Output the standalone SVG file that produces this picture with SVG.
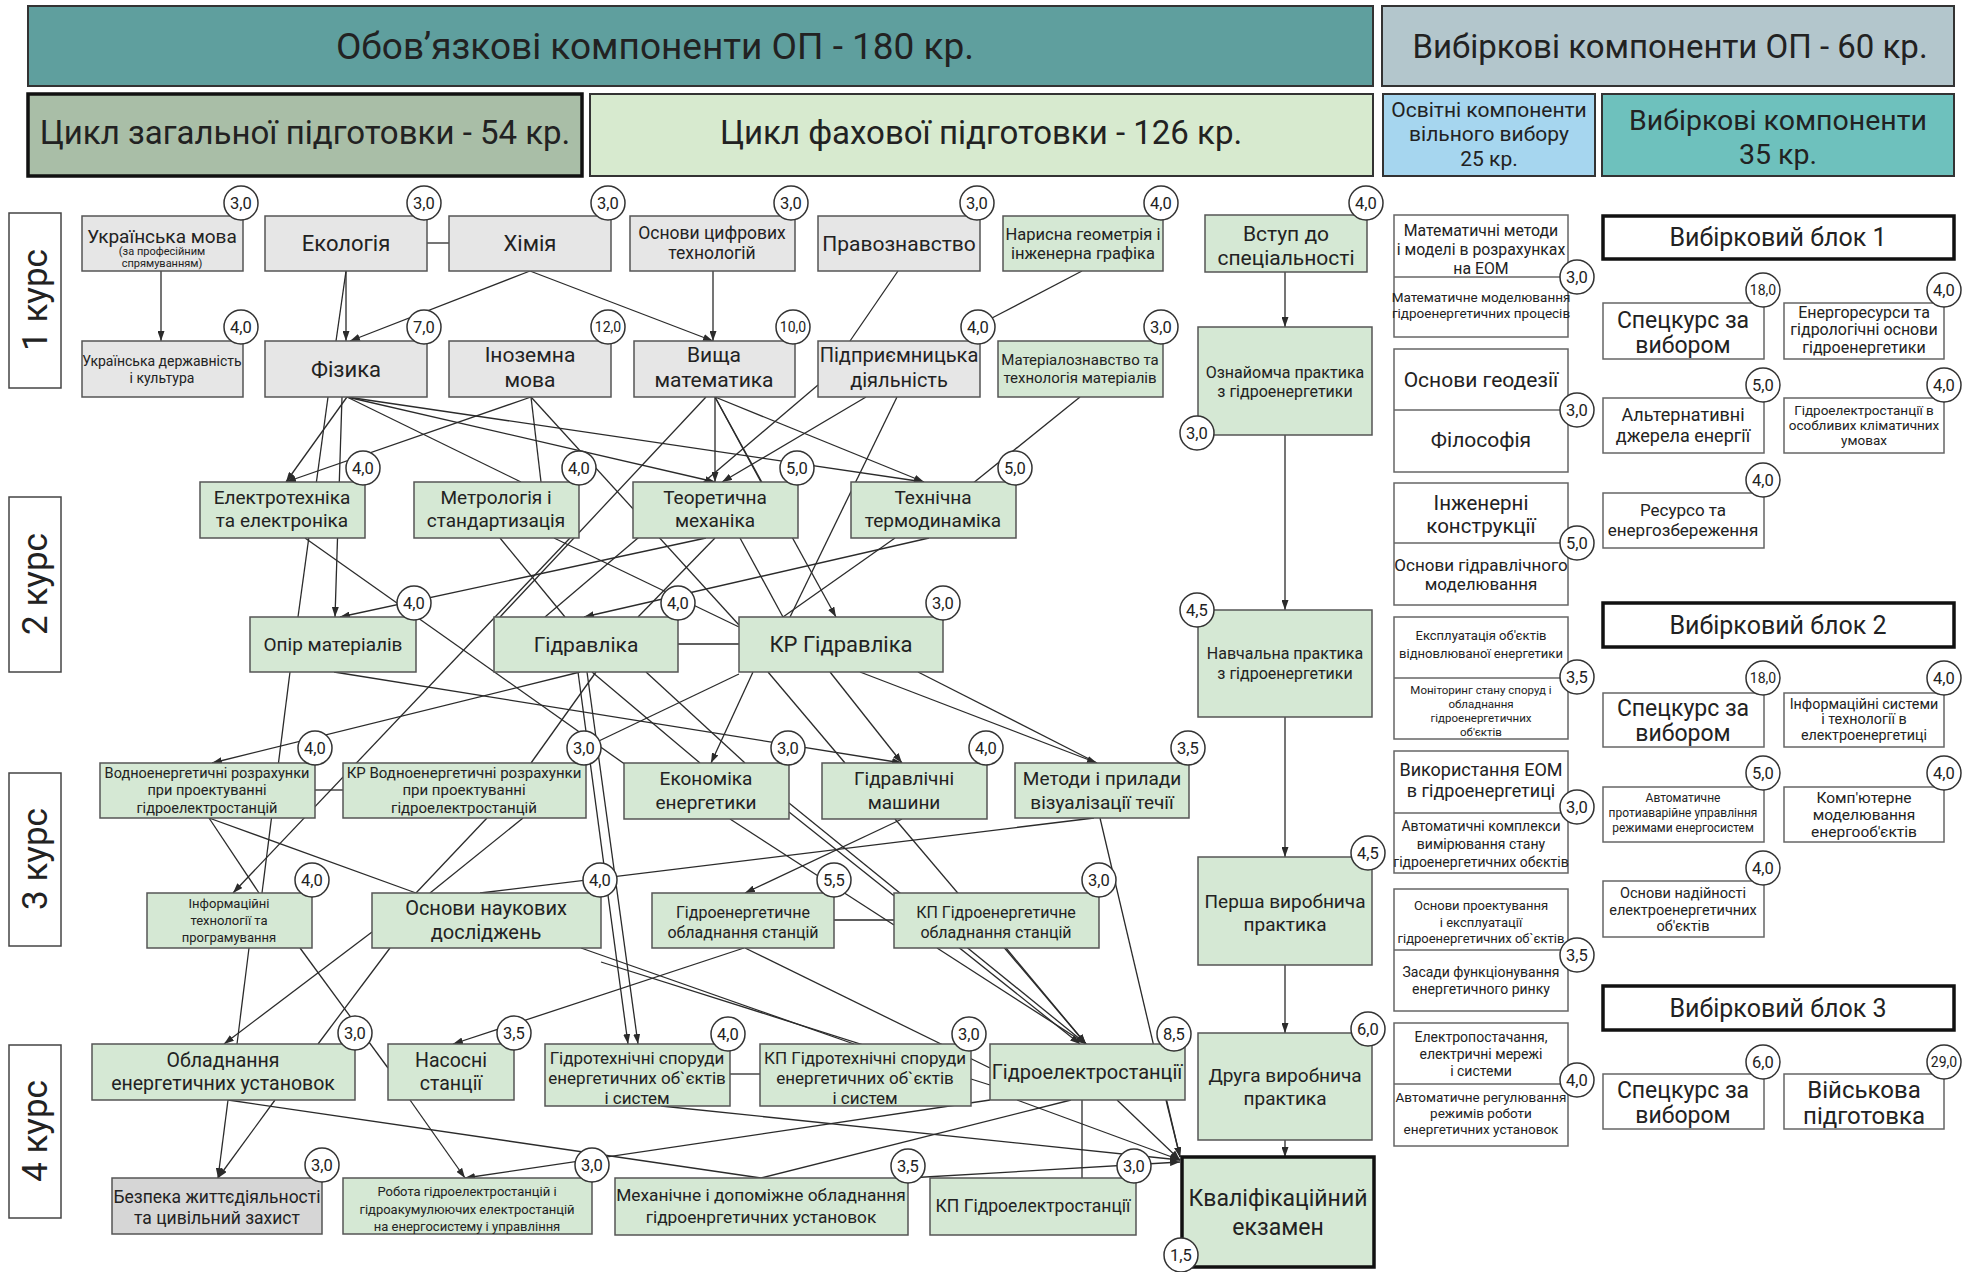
<svg xmlns="http://www.w3.org/2000/svg" width="1975" height="1272" viewBox="0 0 1975 1272">
<defs>
<marker id="ar" viewBox="0 0 10 7" refX="10" refY="3.5" markerWidth="10" markerHeight="7" markerUnits="userSpaceOnUse" orient="auto"><path d="M0,0 L10,3.5 L0,7 z" fill="#2b2b2b"/></marker>
<style>
text{font-family:Roboto,"Liberation Sans",sans-serif;fill:#222;text-anchor:middle}
.gr rect{fill:#e6e6e6;stroke:#555;stroke-width:1.5}
.gn rect{fill:#d5e8d4;stroke:#555;stroke-width:1.5}
.w rect{fill:#fff;stroke:#666;stroke-width:1.5}
.w line{stroke:#666;stroke-width:1.5}
.blk rect{fill:#fff;stroke:#111;stroke-width:3.5}
.crs rect{fill:#fff;stroke:#444;stroke-width:1.5}
.hd rect{stroke:#333;stroke-width:2}
.b circle{fill:#fff;stroke:#333;stroke-width:1.5}
.b text{font-size:16.5px}
.b text.s{font-size:14px}
#conn line{stroke:#2b2b2b;stroke-width:1.3}
#conn .a{marker-end:url(#ar)}
</style>
</defs>
<rect width="1975" height="1272" fill="#fff"/>

<!-- headers -->
<g id="h_oboviazk" class="hd"><rect x="28" y="6" width="1345" height="80" fill="#5f9f9e"/><text x="655" y="59" font-size="37">Обов’язкові компоненти ОП - 180 кр.</text></g>
<g id="h_vybirk" class="hd"><rect x="1382" y="6" width="572" height="80" fill="#b3c6cc"/><text x="1670" y="58" font-size="33">Вибіркові компоненти ОП - 60 кр.</text></g>
<g id="h_zag" class="hd"><rect x="28" y="94" width="554" height="82" fill="#a9bea7" style="stroke:#111;stroke-width:3.5"/><text x="305" y="144" font-size="33">Цикл загальної підготовки - 54 кр.</text></g>
<g id="h_fakh" class="hd"><rect x="590" y="94" width="783" height="82" fill="#d7eacf"/><text x="981" y="144" font-size="33">Цикл фахової підготовки - 126 кр.</text></g>
<g id="h_osv" class="hd"><rect x="1383" y="94" width="212" height="82" fill="#a6d6ef"/><text x="1489" y="117" font-size="21">Освітні компоненти</text><text x="1489" y="141" font-size="21">вільного вибору</text><text x="1489" y="166" font-size="21">25 кр.</text></g>
<g id="h_vyb35" class="hd"><rect x="1602" y="94" width="352" height="82" fill="#6ec1bd"/><text x="1778" y="130" font-size="28.5">Вибіркові компоненти</text><text x="1778" y="164" font-size="28.5">35 кр.</text></g>

<!-- course labels -->
<g id="kurs1" class="crs"><rect x="9" y="213" width="52" height="175"/><text transform="translate(35,300) rotate(-90)" y="12" font-size="35">1 курс</text></g>
<g id="kurs2" class="crs"><rect x="9" y="497" width="52" height="175"/><text transform="translate(35,584) rotate(-90)" y="12" font-size="35">2 курс</text></g>
<g id="kurs3" class="crs"><rect x="9" y="773" width="52" height="173"/><text transform="translate(35,859) rotate(-90)" y="12" font-size="35">3 курс</text></g>
<g id="kurs4" class="crs"><rect x="9" y="1045" width="52" height="173"/><text transform="translate(35,1131) rotate(-90)" y="12" font-size="35">4 курс</text></g>

<!-- connectors -->
<g id="conn">
<line class="a" x1="161" y1="271" x2="161" y2="341"/>
<line x1="427" y1="243" x2="449" y2="243"/>
<line class="a" x1="346" y1="271" x2="346" y2="341"/>
<line x1="346" y1="271" x2="336" y2="341"/>
<line class="a" x1="530" y1="271" x2="350" y2="341"/>
<line class="a" x1="530" y1="271" x2="713" y2="341"/>
<line class="a" x1="713" y1="271" x2="713" y2="341"/>
<line x1="898" y1="271" x2="850" y2="341"/>
<line x1="1082" y1="271" x2="992" y2="318"/>
<line x1="1080" y1="397" x2="972" y2="484"/>

<line class="a" x1="347" y1="397" x2="286" y2="482"/>
<line class="a" x1="531" y1="397" x2="286" y2="482"/>
<line x1="328" y1="397" x2="298" y2="617"/>
<line class="a" x1="342" y1="397" x2="335" y2="617"/>
<line x1="347" y1="397" x2="521" y2="482"/>
<line class="a" x1="347" y1="397" x2="715" y2="482"/>
<line class="a" x1="347" y1="397" x2="924" y2="482"/>
<line x1="531" y1="397" x2="541" y2="482"/>
<line x1="531" y1="397" x2="739" y2="625"/>
<line class="a" x1="715" y1="397" x2="715" y2="482"/>
<line x1="715" y1="397" x2="761" y2="482"/>
<line class="a" x1="715" y1="397" x2="924" y2="482"/>
<line class="a" x1="715" y1="397" x2="836" y2="617"/>
<line x1="706" y1="397" x2="500" y2="617"/>
<line class="a" x1="866" y1="397" x2="722" y2="482"/>
<line x1="897" y1="397" x2="790" y2="617"/>
<line x1="818" y1="385" x2="545" y2="617"/>

<line x1="305" y1="538" x2="626" y2="765"/>
<line class="a" x1="570" y1="538" x2="233" y2="893"/>
<line x1="500" y1="538" x2="565" y2="617"/>
<line x1="554" y1="538" x2="739" y2="627"/>
<line class="a" x1="706" y1="538" x2="340" y2="617"/>
<line x1="715" y1="538" x2="638" y2="617"/>
<line x1="740" y1="538" x2="783" y2="617"/>
<line x1="895" y1="538" x2="783" y2="617"/>
<line class="a" x1="929" y1="538" x2="584" y2="617"/>
<line x1="678" y1="644" x2="739" y2="644"/>

<line x1="290" y1="672" x2="262" y2="893"/>
<line class="a" x1="334" y1="672" x2="902" y2="763"/>
<line class="a" x1="580" y1="672" x2="212" y2="763"/>
<line x1="596" y1="672" x2="531" y2="763"/>
<line class="a" x1="578" y1="672" x2="628" y2="1044"/>
<line class="a" x1="587" y1="672" x2="638" y2="1044"/>
<line x1="592" y1="672" x2="700" y2="763"/>
<line x1="646" y1="672" x2="745" y2="763"/>
<line x1="739" y1="674" x2="580" y2="750"/>
<line class="a" x1="753" y1="672" x2="711" y2="763"/>
<line x1="768" y1="672" x2="845" y2="763"/>
<line class="a" x1="830" y1="672" x2="902" y2="763"/>
<line class="a" x1="860" y1="672" x2="1097" y2="763"/>
<line x1="918" y1="672" x2="1097" y2="763"/>

<line x1="315" y1="790" x2="343" y2="790"/>
<line x1="209" y1="818" x2="259" y2="893"/>
<line x1="209" y1="818" x2="416" y2="893"/>
<line x1="487" y1="818" x2="416" y2="893"/>
<line x1="523" y1="818" x2="430" y2="893"/>
<line x1="730" y1="819" x2="894" y2="925"/>
<line class="a" x1="789" y1="803" x2="1086" y2="1044"/>
<line class="a" x1="789" y1="812" x2="1080" y2="1044"/>
<line class="a" x1="902" y1="819" x2="745" y2="893"/>
<line class="a" x1="895" y1="819" x2="1086" y2="1044"/>
<line x1="1094" y1="818" x2="480" y2="893"/>
<line class="a" x1="1100" y1="818" x2="1180" y2="1157"/>
<line x1="834" y1="920" x2="894" y2="920"/>

<line x1="249" y1="948" x2="237" y2="1044"/>
<line x1="300" y1="948" x2="388" y2="1068"/>
<line class="a" x1="372" y1="932" x2="224" y2="1044"/>
<line x1="390" y1="948" x2="318" y2="1044"/>
<line x1="581" y1="948" x2="854" y2="1044"/>
<line x1="601" y1="962" x2="990" y2="1085"/>
<line class="a" x1="744" y1="948" x2="453" y2="1044"/>
<line x1="745" y1="948" x2="990" y2="1068"/>
<line class="a" x1="1006" y1="948" x2="1086" y2="1044"/>
<line class="a" x1="937" y1="948" x2="1086" y2="1044"/>
<line x1="730" y1="1074" x2="760" y2="1074"/>

<line class="a" x1="228" y1="1100" x2="218" y2="1178"/>
<line class="a" x1="275" y1="1100" x2="218" y2="1178"/>
<line x1="228" y1="1100" x2="761" y2="1178"/>
<line class="a" x1="410" y1="1100" x2="465" y2="1178"/>
<line class="a" x1="990" y1="1100" x2="465" y2="1178"/>
<line x1="1071" y1="1100" x2="761" y2="1178"/>
<line x1="1082" y1="1100" x2="1082" y2="1178"/>
<line class="a" x1="1017" y1="1100" x2="1180" y2="1160"/>
<line class="a" x1="1117" y1="1100" x2="1180" y2="1160"/>
<line class="a" x1="1166" y1="1100" x2="1180" y2="1157"/>
<line class="a" x1="661" y1="1106" x2="1180" y2="1160"/>
<line class="a" x1="908" y1="1178" x2="1180" y2="1162"/>

<line class="a" x1="1285" y1="272" x2="1285" y2="327"/>
<line class="a" x1="1285" y1="435" x2="1285" y2="610"/>
<line class="a" x1="1285" y1="717" x2="1285" y2="857"/>
<line class="a" x1="1285" y1="965" x2="1285" y2="1033"/>
<line class="a" x1="1285" y1="1140" x2="1285" y2="1157"/>
</g>

<!-- 1 курс -->
<g id="ukr_mova" class="gr"><rect x="82" y="216" width="161" height="55"/><text x="162" y="243" font-size="19">Українська мова</text><text x="162" y="255" font-size="11">(за професійним</text><text x="162" y="267" font-size="11">спрямуванням)</text><g class="b"><circle cx="241" cy="203" r="17"/><text x="241" y="208.5">3,0</text></g></g>
<g id="ekologiia" class="gr"><rect x="265" y="216" width="162" height="55"/><text x="346" y="251" font-size="22">Екологія</text><g class="b"><circle cx="424" cy="203" r="17"/><text x="424" y="208.5">3,0</text></g></g>
<g id="khimiia" class="gr"><rect x="449" y="216" width="162" height="55"/><text x="530" y="251" font-size="22">Хімія</text><g class="b"><circle cx="608" cy="203" r="17"/><text x="608" y="208.5">3,0</text></g></g>
<g id="osn_cyfr" class="gr"><rect x="630" y="216" width="165" height="55"/><text x="712" y="239" font-size="17.5">Основи цифрових</text><text x="712" y="259" font-size="17.5">технологій</text><g class="b"><circle cx="791" cy="203" r="17"/><text x="791" y="208.5">3,0</text></g></g>
<g id="pravo" class="gr"><rect x="818" y="216" width="162" height="55"/><text x="899" y="251" font-size="21">Правознавство</text><g class="b"><circle cx="977" cy="203" r="17"/><text x="977" y="208.5">3,0</text></g></g>
<g id="narysna" class="gn"><rect x="1003" y="216" width="160" height="55"/><text x="1083" y="240" font-size="16.5">Нарисна геометрія і</text><text x="1083" y="259" font-size="16.5">інженерна графіка</text><g class="b"><circle cx="1161" cy="203" r="17"/><text x="1161" y="208.5">4,0</text></g></g>

<g id="ukr_derzh" class="gr"><rect x="82" y="341" width="161" height="56"/><text x="162" y="366" font-size="14">Українська державність</text><text x="162" y="383" font-size="14">і культура</text><g class="b"><circle cx="241" cy="327" r="17"/><text x="241" y="332.5">4,0</text></g></g>
<g id="fizyka" class="gr"><rect x="265" y="341" width="162" height="56"/><text x="346" y="377" font-size="22">Фізика</text><g class="b"><circle cx="424" cy="327" r="17"/><text x="424" y="332.5">7,0</text></g></g>
<g id="inozemna" class="gr"><rect x="449" y="341" width="162" height="56"/><text x="530" y="362" font-size="21">Іноземна</text><text x="530" y="387" font-size="21">мова</text><g class="b"><circle cx="608" cy="327" r="17"/><text class="s" x="608" y="332">12,0</text></g></g>
<g id="vyshcha_mat" class="gr"><rect x="634" y="341" width="161" height="56"/><text x="714" y="362" font-size="21">Вища</text><text x="714" y="387" font-size="21">математика</text><g class="b"><circle cx="793" cy="327" r="17"/><text class="s" x="793" y="332">10,0</text></g></g>
<g id="pidpryiemn" class="gr"><rect x="818" y="341" width="162" height="56"/><text x="899" y="362" font-size="20">Підприємницька</text><text x="899" y="387" font-size="20">діяльність</text><g class="b"><circle cx="978" cy="327" r="17"/><text x="978" y="332.5">4,0</text></g></g>
<g id="materialozn" class="gn"><rect x="998" y="341" width="165" height="56"/><text x="1080" y="365" font-size="15">Матеріалознавство та</text><text x="1080" y="383" font-size="15">технологія матеріалів</text><g class="b"><circle cx="1161" cy="327" r="17"/><text x="1161" y="332.5">3,0</text></g></g>

<!-- 2 курс -->
<g id="elektrotekh" class="gn"><rect x="200" y="482" width="165" height="56"/><text x="282" y="504" font-size="19">Електротехніка</text><text x="282" y="527" font-size="19">та електроніка</text><g class="b"><circle cx="363" cy="468" r="17"/><text x="363" y="473.5">4,0</text></g></g>
<g id="metrologiia" class="gn"><rect x="414" y="482" width="165" height="56"/><text x="496" y="504" font-size="19">Метрологія і</text><text x="496" y="527" font-size="19">стандартизація</text><g class="b"><circle cx="579" cy="468" r="17"/><text x="579" y="473.5">4,0</text></g></g>
<g id="teor_mekh" class="gn"><rect x="633" y="482" width="165" height="56"/><text x="715" y="504" font-size="19">Теоретична</text><text x="715" y="527" font-size="19">механіка</text><g class="b"><circle cx="797" cy="468" r="17"/><text x="797" y="473.5">5,0</text></g></g>
<g id="tekhn_termo" class="gn"><rect x="851" y="482" width="165" height="56"/><text x="933" y="504" font-size="19">Технічна</text><text x="933" y="527" font-size="19">термодинаміка</text><g class="b"><circle cx="1015" cy="468" r="17"/><text x="1015" y="473.5">5,0</text></g></g>

<g id="opir_mat" class="gn"><rect x="250" y="617" width="166" height="55"/><text x="333" y="651" font-size="19">Опір матеріалів</text><g class="b"><circle cx="414" cy="603" r="17"/><text x="414" y="608.5">4,0</text></g></g>
<g id="gidravlika" class="gn"><rect x="494" y="617" width="184" height="55"/><text x="586" y="652" font-size="21">Гідравліка</text><g class="b"><circle cx="678" cy="603" r="17"/><text x="678" y="608.5">4,0</text></g></g>
<g id="kr_gidravlika" class="gn"><rect x="739" y="617" width="204" height="55"/><text x="841" y="652" font-size="22">КР Гідравліка</text><g class="b"><circle cx="943" cy="603" r="17"/><text x="943" y="608.5">3,0</text></g></g>

<!-- 3 курс -->
<g id="vodnoen" class="gn"><rect x="100" y="763" width="215" height="55"/><text x="207" y="778" font-size="14.5">Водноенергетичні розрахунки</text><text x="207" y="795" font-size="14.5">при проектуванні</text><text x="207" y="813" font-size="14.5">гідроелектростанцій</text><g class="b"><circle cx="315" cy="748" r="17"/><text x="315" y="753.5">4,0</text></g></g>
<g id="kr_vodnoen" class="gn"><rect x="343" y="763" width="243" height="55"/><text x="464" y="778" font-size="15">КР Водноенергетичні розрахунки</text><text x="464" y="795" font-size="15">при проектуванні</text><text x="464" y="813" font-size="15">гідроелектростанцій</text><g class="b"><circle cx="584" cy="748" r="17"/><text x="584" y="753.5">3,0</text></g></g>
<g id="ekonomika" class="gn"><rect x="624" y="763" width="165" height="56"/><text x="706" y="785" font-size="19">Економіка</text><text x="706" y="809" font-size="19">енергетики</text><g class="b"><circle cx="788" cy="748" r="17"/><text x="788" y="753.5">3,0</text></g></g>
<g id="gidr_mashyny" class="gn"><rect x="822" y="763" width="165" height="56"/><text x="904" y="785" font-size="19">Гідравлічні</text><text x="904" y="809" font-size="19">машини</text><g class="b"><circle cx="986" cy="748" r="17"/><text x="986" y="753.5">4,0</text></g></g>
<g id="metody" class="gn"><rect x="1015" y="763" width="174" height="55"/><text x="1102" y="785" font-size="19">Методи і прилади</text><text x="1102" y="809" font-size="19">візуалізації течії</text><g class="b"><circle cx="1188" cy="748" r="17"/><text x="1188" y="753.5">3,5</text></g></g>

<g id="inform_tekh" class="gn"><rect x="147" y="893" width="165" height="55"/><text x="229" y="908" font-size="13">Інформаційні</text><text x="229" y="925" font-size="13">технології та</text><text x="229" y="942" font-size="13">програмування</text><g class="b"><circle cx="312" cy="880" r="17"/><text x="312" y="885.5">4,0</text></g></g>
<g id="osn_nauk" class="gn"><rect x="372" y="893" width="229" height="55"/><text x="486" y="915" font-size="20">Основи наукових</text><text x="486" y="939" font-size="20">досліджень</text><g class="b"><circle cx="600" cy="880" r="17"/><text x="600" y="885.5">4,0</text></g></g>
<g id="gidroen_obl" class="gn"><rect x="652" y="893" width="182" height="55"/><text x="743" y="918" font-size="16">Гідроенергетичне</text><text x="743" y="938" font-size="16">обладнання станцій</text><g class="b"><circle cx="834" cy="880" r="17"/><text x="834" y="885.5">5,5</text></g></g>
<g id="kp_gidroen_obl" class="gn"><rect x="894" y="893" width="205" height="55"/><text x="996" y="918" font-size="16">КП Гідроенергетичне</text><text x="996" y="938" font-size="16">обладнання станцій</text><g class="b"><circle cx="1099" cy="880" r="17"/><text x="1099" y="885.5">3,0</text></g></g>

<!-- 4 курс -->
<g id="obladn_en" class="gn"><rect x="92" y="1044" width="263" height="56"/><text x="223" y="1067" font-size="19.5">Обладнання</text><text x="223" y="1090" font-size="19.5">енергетичних установок</text><g class="b"><circle cx="355" cy="1033" r="17"/><text x="355" y="1038.5">3,0</text></g></g>
<g id="nasosni" class="gn"><rect x="388" y="1044" width="126" height="56"/><text x="451" y="1067" font-size="19.5">Насосні</text><text x="451" y="1090" font-size="19.5">станції</text><g class="b"><circle cx="514" cy="1033" r="17"/><text x="514" y="1038.5">3,5</text></g></g>
<g id="gidrotekh_spor" class="gn"><rect x="545" y="1044" width="185" height="62"/><text x="637" y="1064" font-size="17">Гідротехнічні споруди</text><text x="637" y="1084" font-size="17">енергетичних об`єктів</text><text x="637" y="1104" font-size="17">і систем</text><g class="b"><circle cx="728" cy="1034" r="17"/><text x="728" y="1039.5">4,0</text></g></g>
<g id="kp_gidrotekh_spor" class="gn"><rect x="760" y="1044" width="211" height="62"/><text x="865" y="1064" font-size="17">КП Гідротехнічні споруди</text><text x="865" y="1084" font-size="17">енергетичних об`єктів</text><text x="865" y="1104" font-size="17">і систем</text><g class="b"><circle cx="969" cy="1034" r="17"/><text x="969" y="1039.5">3,0</text></g></g>
<g id="ges" class="gn"><rect x="990" y="1044" width="195" height="56"/><text x="1087" y="1079" font-size="20">Гідроелектростанції</text><g class="b"><circle cx="1174" cy="1034" r="17"/><text x="1174" y="1039.5">8,5</text></g></g>

<g id="bezpeka" class="gr"><rect x="112" y="1178" width="210" height="56" style="fill:#d6d6d6"/><text x="217" y="1203" font-size="17.5">Безпека життєдіяльності</text><text x="217" y="1224" font-size="17.5">та цивільний захист</text><g class="b"><circle cx="322" cy="1165" r="17"/><text x="322" y="1170.5">3,0</text></g></g>
<g id="robota_ges" class="gn"><rect x="343" y="1178" width="249" height="56"/><text x="467" y="1196" font-size="13">Робота гідроелектростанцій і</text><text x="467" y="1214" font-size="13">гідроакумулюючих електростанцій</text><text x="467" y="1231" font-size="13">на енергосистему і управління</text><g class="b"><circle cx="592" cy="1165" r="17"/><text x="592" y="1170.5">3,0</text></g></g>
<g id="mekh_obl" class="gn"><rect x="615" y="1178" width="293" height="57"/><text x="761" y="1201" font-size="17.3">Механічне і допоміжне обладнання</text><text x="761" y="1223" font-size="17.3">гідроенргетичних установок</text><g class="b"><circle cx="908" cy="1166" r="17"/><text x="908" y="1171.5">3,5</text></g></g>
<g id="kp_ges" class="gn"><rect x="930" y="1178" width="206" height="57"/><text x="1033" y="1212" font-size="17.5">КП Гідроелектростанції</text><g class="b"><circle cx="1134" cy="1166" r="17"/><text x="1134" y="1171.5">3,0</text></g></g>

<!-- practice column -->
<g id="vstup" class="gn"><rect x="1205" y="215" width="162" height="57"/><text x="1286" y="241" font-size="21">Вступ до</text><text x="1286" y="265" font-size="21">спеціальності</text><g class="b"><circle cx="1366" cy="203" r="17"/><text x="1366" y="208.5">4,0</text></g></g>
<g id="oznaiom" class="gn"><rect x="1198" y="327" width="174" height="108"/><text x="1285" y="378" font-size="16">Ознайомча практика</text><text x="1285" y="397" font-size="16">з гідроенергетики</text><g class="b"><circle cx="1197" cy="433" r="17"/><text x="1197" y="438.5">3,0</text></g></g>
<g id="navch" class="gn"><rect x="1198" y="610" width="174" height="107"/><text x="1285" y="659" font-size="16">Навчальна практика</text><text x="1285" y="679" font-size="16">з гідроенергетики</text><g class="b"><circle cx="1197" cy="610" r="17"/><text x="1197" y="615.5">4,5</text></g></g>
<g id="persha" class="gn"><rect x="1198" y="857" width="174" height="108"/><text x="1285" y="908" font-size="19">Перша виробнича</text><text x="1285" y="931" font-size="19">практика</text><g class="b"><circle cx="1368" cy="853" r="17"/><text x="1368" y="858.5">4,5</text></g></g>
<g id="druha" class="gn"><rect x="1198" y="1033" width="174" height="107"/><text x="1285" y="1082" font-size="19">Друга виробнича</text><text x="1285" y="1105" font-size="19">практика</text><g class="b"><circle cx="1368" cy="1029" r="17"/><text x="1368" y="1034.5">6,0</text></g></g>
<g id="kvalif" class="gn"><rect x="1182" y="1157" width="192" height="110" style="stroke:#111;stroke-width:3.5"/><text x="1278" y="1206" font-size="23">Кваліфікаційний</text><text x="1278" y="1235" font-size="23">екзамен</text><g class="b"><circle cx="1181" cy="1255" r="17"/><text x="1181" y="1260.5">1,5</text></g></g>

<!-- free choice column -->
<g id="vv1" class="w"><rect x="1394" y="215" width="174" height="122"/><line x1="1394" y1="277" x2="1562" y2="277"/><text x="1481" y="236" font-size="15.8">Математичні методи</text><text x="1481" y="255" font-size="15.8">і моделі в розрахунках</text><text x="1481" y="274" font-size="15.8">на ЕОМ</text><text x="1481" y="302" font-size="13.5">Математичне моделювання</text><text x="1481" y="318" font-size="13.5">гідроенергетичних процесів</text><g class="b"><circle cx="1577" cy="277" r="17"/><text x="1577" y="282.5">3,0</text></g></g>
<g id="vv2" class="w"><rect x="1394" y="349" width="174" height="123"/><line x1="1394" y1="410" x2="1562" y2="410"/><text x="1481" y="387" font-size="21">Основи геодезії</text><text x="1481" y="447" font-size="21">Філософія</text><g class="b"><circle cx="1577" cy="410" r="17"/><text x="1577" y="415.5">3,0</text></g></g>
<g id="vv3" class="w"><rect x="1394" y="483" width="174" height="122"/><line x1="1394" y1="543" x2="1562" y2="543"/><text x="1481" y="510" font-size="20.5">Інженерні</text><text x="1481" y="533" font-size="20.5">конструкції</text><text x="1481" y="571" font-size="17">Основи гідравлічного</text><text x="1481" y="590" font-size="17">моделювання</text><g class="b"><circle cx="1577" cy="543" r="17"/><text x="1577" y="548.5">5,0</text></g></g>
<g id="vv4" class="w"><rect x="1394" y="617" width="174" height="122"/><line x1="1394" y1="678" x2="1562" y2="678"/><text x="1481" y="640" font-size="13">Експлуатація об'єктів</text><text x="1481" y="658" font-size="13">відновлюваної енергетики</text><text x="1481" y="694" font-size="11.5">Моніторинг стану споруд і</text><text x="1481" y="708" font-size="11.5">обладнання</text><text x="1481" y="722" font-size="11.5">гідроенергетичних</text><text x="1481" y="736" font-size="11.5">об'єктів</text><g class="b"><circle cx="1577" cy="677" r="17"/><text x="1577" y="682.5">3,5</text></g></g>
<g id="vv5" class="w"><rect x="1394" y="751" width="174" height="122"/><line x1="1394" y1="813" x2="1562" y2="813"/><text x="1481" y="776" font-size="18">Використання ЕОМ</text><text x="1481" y="797" font-size="18">в гідроенергетиці</text><text x="1481" y="831" font-size="14">Автоматичні комплекси</text><text x="1481" y="849" font-size="14">вимірювання стану</text><text x="1481" y="867" font-size="14">гідроенергетичних обєктів</text><g class="b"><circle cx="1577" cy="807" r="17"/><text x="1577" y="812.5">3,0</text></g></g>
<g id="vv6" class="w"><rect x="1394" y="889" width="174" height="122"/><line x1="1394" y1="950" x2="1562" y2="950"/><text x="1481" y="910" font-size="13">Основи проектування</text><text x="1481" y="927" font-size="13">і експлуатації</text><text x="1481" y="943" font-size="13">гідроенергетичних об`єктів</text><text x="1481" y="977" font-size="14">Засади функціонування</text><text x="1481" y="994" font-size="14">енергетичного ринку</text><g class="b"><circle cx="1577" cy="955" r="17"/><text x="1577" y="960.5">3,5</text></g></g>
<g id="vv7" class="w"><rect x="1394" y="1023" width="174" height="123"/><line x1="1394" y1="1084" x2="1562" y2="1084"/><text x="1481" y="1042" font-size="14">Електропостачання,</text><text x="1481" y="1059" font-size="14">електричні мережі</text><text x="1481" y="1076" font-size="14">і системи</text><text x="1481" y="1102" font-size="13.5">Автоматичне регулювання</text><text x="1481" y="1118" font-size="13.5">режимів роботи</text><text x="1481" y="1134" font-size="13.5">енергетичних установок</text><g class="b"><circle cx="1577" cy="1080" r="17"/><text x="1577" y="1085.5">4,0</text></g></g>

<!-- elective blocks -->
<g id="blok1" class="blk"><rect x="1603" y="216" width="351" height="43"/><text x="1778" y="246" font-size="25">Вибірковий блок 1</text></g>
<g id="spec1" class="w"><rect x="1603" y="303" width="161" height="56"/><text x="1683" y="328" font-size="23">Спецкурс за</text><text x="1683" y="353" font-size="23">вибором</text><g class="b"><circle cx="1763" cy="290" r="17"/><text class="s" x="1763" y="295">18,0</text></g></g>
<g id="enres" class="w"><rect x="1784" y="303" width="160" height="56"/><text x="1864" y="318" font-size="16">Енергоресурси та</text><text x="1864" y="335" font-size="16">гідрологічні основи</text><text x="1864" y="353" font-size="16">гідроенергетики</text><g class="b"><circle cx="1944" cy="290" r="17"/><text x="1944" y="295.5">4,0</text></g></g>
<g id="alt" class="w"><rect x="1603" y="398" width="161" height="55"/><text x="1683" y="421" font-size="18">Альтернативні</text><text x="1683" y="442" font-size="18">джерела енергії</text><g class="b"><circle cx="1763" cy="385" r="17"/><text x="1763" y="390.5">5,0</text></g></g>
<g id="ges_osob" class="w"><rect x="1784" y="398" width="160" height="55"/><text x="1864" y="415" font-size="13.5">Гідроелектростанції в</text><text x="1864" y="430" font-size="13.5">особливих кліматичних</text><text x="1864" y="445" font-size="13.5">умовах</text><g class="b"><circle cx="1944" cy="385" r="17"/><text x="1944" y="390.5">4,0</text></g></g>
<g id="resurs" class="w"><rect x="1603" y="493" width="161" height="55"/><text x="1683" y="516" font-size="17">Ресурсо та</text><text x="1683" y="536" font-size="17">енергозбереження</text><g class="b"><circle cx="1763" cy="480" r="17"/><text x="1763" y="485.5">4,0</text></g></g>

<g id="blok2" class="blk"><rect x="1603" y="603" width="351" height="44"/><text x="1778" y="634" font-size="25">Вибірковий блок 2</text></g>
<g id="spec2" class="w"><rect x="1603" y="693" width="161" height="54"/><text x="1683" y="716" font-size="23">Спецкурс за</text><text x="1683" y="741" font-size="23">вибором</text><g class="b"><circle cx="1763" cy="678" r="17"/><text class="s" x="1763" y="683">18,0</text></g></g>
<g id="inf_sys" class="w"><rect x="1784" y="693" width="160" height="54"/><text x="1864" y="709" font-size="14.3">Інформаційні системи</text><text x="1864" y="724" font-size="14.3">і технології в</text><text x="1864" y="740" font-size="14.3">електроенергетиці</text><g class="b"><circle cx="1944" cy="678" r="17"/><text x="1944" y="683.5">4,0</text></g></g>
<g id="avt_prot" class="w"><rect x="1603" y="787" width="161" height="55"/><text x="1683" y="802" font-size="12">Автоматичне</text><text x="1683" y="817" font-size="12">протиаварійне управління</text><text x="1683" y="832" font-size="12">режимами енергосистем</text><g class="b"><circle cx="1763" cy="773" r="17"/><text x="1763" y="778.5">5,0</text></g></g>
<g id="komp_mod" class="w"><rect x="1784" y="787" width="160" height="55"/><text x="1864" y="803" font-size="15.5">Комп'ютерне</text><text x="1864" y="820" font-size="15.5">моделювання</text><text x="1864" y="837" font-size="15.5">енергооб'єктів</text><g class="b"><circle cx="1944" cy="773" r="17"/><text x="1944" y="778.5">4,0</text></g></g>
<g id="nadiin" class="w"><rect x="1603" y="881" width="161" height="56"/><text x="1683" y="898" font-size="14.5">Основи надійності</text><text x="1683" y="915" font-size="14.5">електроенергетичних</text><text x="1683" y="931" font-size="14.5">об'єктів</text><g class="b"><circle cx="1763" cy="868" r="17"/><text x="1763" y="873.5">4,0</text></g></g>

<g id="blok3" class="blk"><rect x="1603" y="986" width="351" height="44"/><text x="1778" y="1017" font-size="25">Вибірковий блок 3</text></g>
<g id="spec3" class="w"><rect x="1603" y="1074" width="161" height="55"/><text x="1683" y="1098" font-size="23">Спецкурс за</text><text x="1683" y="1123" font-size="23">вибором</text><g class="b"><circle cx="1763" cy="1062" r="17"/><text x="1763" y="1067.5">6,0</text></g></g>
<g id="viisk" class="w"><rect x="1784" y="1074" width="160" height="55"/><text x="1864" y="1098" font-size="24">Військова</text><text x="1864" y="1124" font-size="24">підготовка</text><g class="b"><circle cx="1944" cy="1062" r="17"/><text class="s" x="1944" y="1067">29,0</text></g></g>
</svg>
